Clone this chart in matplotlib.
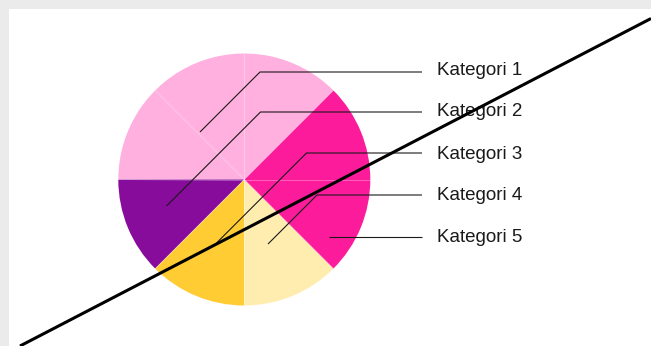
import matplotlib
matplotlib.use("Agg")
import matplotlib.pyplot as plt
from matplotlib.lines import Line2D
import numpy as np

# Pie data: five categories measured in whole units (each unit = 45 degrees)
categories = ["Kategori 1", "Kategori 2", "Kategori 3", "Kategori 4", "Kategori 5"]
values = [3, 1, 1, 1, 2]
colors = ["#ffb0df", "#870c9c", "#ffcc33", "#ffedb0", "#fc1c9b"]

# Label anchor points inside the wedges, leader row y and text baseline (pixels, top-down)
anchor_px = [(200, 132), (166.5, 206), (216.5, 243), (268, 244), (329, 237)]
label_row_y = [72, 112, 153, 195, 237]
text_baseline_y = [75, 116, 159, 200, 242]

W, H = 651, 346
fig = plt.figure(figsize=(W / 100, H / 100), dpi=100)
fig.patch.set_facecolor("#ebebeb")

# white plotting panel with a grey strip along the top and left
ax = fig.add_axes([9 / W, 0, 1 - 9 / W, 1 - 9 / H])
ax.set_facecolor("white")
ax.add_patch(plt.Rectangle((9, 0), W - 9, H - 9, facecolor="white", edgecolor="none", zorder=0))

cx, cy, r = 244.3, H - 179.5, 126
wedges, _ = ax.pie(values, colors=colors, startangle=45, counterclock=True,
                   center=(cx, cy), radius=r, frame=True,
                   wedgeprops=dict(linewidth=0))
ax.set_xlim(9, W)
ax.set_ylim(0, H - 9)
ax.set_aspect("equal")
ax.axis("off")

# faint unit dividers inside the pie
total = sum(values)
for k in range(total):
    a = np.deg2rad(45 + 360 * k / total)
    ax.plot([cx, cx + r * np.cos(a)], [cy, cy + r * np.sin(a)],
            color="white", lw=0.6, alpha=0.35, zorder=3)

# leader lines: 45-degree diagonal up to the row, then horizontal to the label
x_end, x_text = 422, 437
for name, (px, py), ly, by in zip(categories, anchor_px, label_row_y, text_baseline_y):
    ay = H - py
    ry = H - ly
    ex = px + (ry - ay)
    ax.plot([px, ex, x_end], [ay, ry, ry], color="#1a1a1a", lw=0.8, zorder=4,
            solid_capstyle="butt")
    ax.text(x_text, H - by, name, fontsize=13.5,
            family=["Liberation Sans Narrow", "Liberation Sans", "DejaVu Sans"],
            va="baseline", ha="left", color="#1a1a1a", zorder=5)

# long diagonal stroke across the figure
fig.add_artist(Line2D([20 / W, 1.0], [0, 1 - 18.5 / H], transform=fig.transFigure,
                      color="black", lw=2.2, solid_capstyle="butt"))

fig.savefig("out.png", dpi=100)
